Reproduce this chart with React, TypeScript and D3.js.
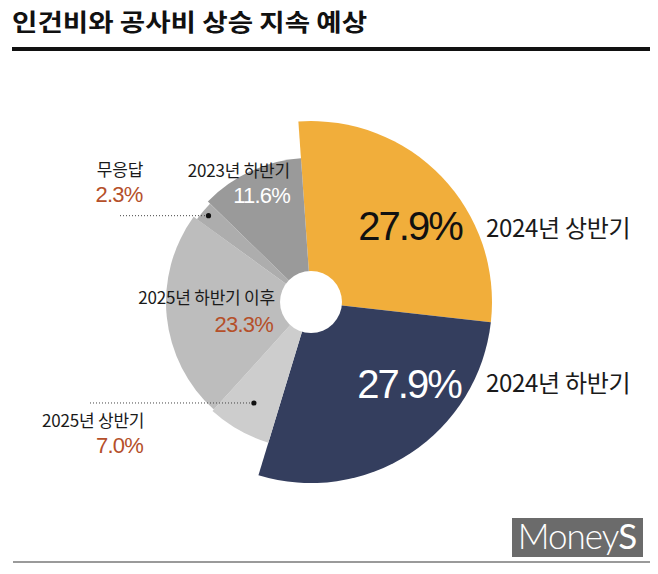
import React, { useEffect, useRef } from 'react';
import * as d3 from 'd3';

// slices, clockwise from (almost) 12 o'clock
const categories = ['2024년 상반기', '2024년 하반기', '2025년 상반기', '2025년 하반기 이후', '무응답', '2023년 하반기'];
const shares = [27.9, 27.9, 7.0, 23.3, 2.3, 11.6];
const valueLabels = ['27.9%', '27.9%', '7.0%', '23.3%', '2.3%', '11.6%'];

const colors = ['#F1AE3B', '#343E5E', '#CDCDCD', '#BDBDBD', '#ADADAD', '#9A9A9A'];
const outerR = [181, 181, 147, 145, 141, 144];

const FONT = '"Noto Sans CJK KR", "Noto Sans", sans-serif';
const NUM_FONT = '"Liberation Sans", Arial, sans-serif';
const RED = '#B5502A';

export default function App() {
  const svgRef = useRef<SVGSVGElement>(null);

  useEffect(() => {
    document.body.style.margin = '0';
    const width = 658;
    const height = 574;
    const cx = 311;
    const cy = 302;
    const start = (-4 * Math.PI) / 180;

    const svg = d3.select(svgRef.current).attr('width', width).attr('height', height);
    svg.selectAll('*').remove();
    svg.append('rect').attr('width', width).attr('height', height).attr('fill', '#fff');

    // Title + rule
    svg.append('text').attr('transform', 'translate(12,31) scale(1.15,1)')
      .attr('font-family', FONT).attr('font-size', 24).attr('font-weight', 700)
      .attr('fill', '#111')
      .text('인건비와 공사비 상승 지속 예상');
    svg.append('rect').attr('x', 12).attr('y', 47).attr('width', 638).attr('height', 4).attr('fill', '#111');

    const data = shares.map((v, i) => ({ name: categories[i], value: v, i }));
    const pie = d3.pie<any>().value(d => d.value).sort(null)
      .startAngle(start).endAngle(start + Math.PI * 2);
    const arcs = pie(data);

    const g = svg.append('g').attr('transform', `translate(${cx},${cy})`);
    g.selectAll('path.slice').data(arcs).join('path').attr('class', 'slice')
      .attr('d', d => d3.arc<any>().innerRadius(0).outerRadius(outerR[d.data.i])(d) as string)
      .attr('fill', d => colors[d.data.i]);

    // hole
    g.append('circle').attr('r', 31).attr('fill', '#fff');

    // Labels
    type Lab = { nx: number; ny: number; na: string; vx: number; vy: number; va: string; big?: boolean; vc: string; leader?: { x0: number; r: number } };
    const layout: Lab[] = [
      { nx: 486, ny: 237, na: 'start', vx: 410, vy: 240, va: 'middle', big: true, vc: '#111' },
      { nx: 486, ny: 392, na: 'start', vx: 409, vy: 398, va: 'middle', big: true, vc: '#fff' },
      { nx: 42, ny: 427, na: 'start', vx: 143, vy: 453, va: 'end', vc: RED, leader: { x0: 90, r: 116 } },
      { nx: 275, ny: 304, na: 'end', vx: 273, vy: 332, va: 'end', vc: RED },
      { nx: 120, ny: 176, na: 'middle', vx: 119, vy: 202, va: 'middle', vc: RED, leader: { x0: 120, r: 134 } },
      { nx: 290, ny: 176.5, na: 'end', vx: 290, vy: 202.5, va: 'end', vc: '#fff' },
    ];

    arcs.forEach((a, k) => {
      const L = layout[k];
      svg.append('text').attr('x', L.nx).attr('y', L.ny).attr('text-anchor', L.na)
        .attr('font-family', FONT).attr('font-size', L.big ? 24 : 17).attr('fill', '#1a1a1a')
        .attr('letter-spacing', L.big ? -0.3 : -0.2)
        .text(a.data.name);
      svg.append('text').attr('x', L.vx).attr('y', L.vy).attr('text-anchor', L.va)
        .attr('font-family', NUM_FONT).attr('font-size', L.big ? 40 : 22)
        .attr('fill', L.vc)
        .attr('letter-spacing', L.big ? -2 : -0.8)
        .text(valueLabels[k]);
      if (L.leader) {
        const [px, py] = d3.arc<any>().innerRadius(L.leader.r).outerRadius(L.leader.r).centroid(a);
        const dx = cx + px;
        const dy = cy + py;
        svg.append('line').attr('x1', L.leader.x0).attr('x2', dx).attr('y1', dy).attr('y2', dy)
          .attr('stroke', '#444').attr('stroke-width', 1).attr('stroke-dasharray', '1,2');
        svg.append('circle').attr('cx', dx).attr('cy', dy).attr('r', 2.6).attr('fill', '#111');
      }
    });

    // bottom rule + logo
    svg.append('rect').attr('x', 13).attr('y', 561).attr('width', 637).attr('height', 2).attr('fill', '#9a9a9a');
    svg.append('rect').attr('x', 512).attr('y', 518).attr('width', 131).attr('height', 39).attr('fill', '#6b6b6b');
    const logo = svg.append('text').attr('x', 577).attr('y', 549).attr('text-anchor', 'middle')
      .attr('font-family', 'Lato, "Open Sans", sans-serif').attr('font-size', 35).attr('fill', '#fff')
      .attr('letter-spacing', -1);
    logo.append('tspan').attr('font-weight', 300).text('Money');
    logo.append('tspan').attr('font-weight', 400).text('S');
  }, []);

  return (
    <div>
      <svg ref={svgRef} style={{ display: 'block' }} />
    </div>
  );
}
